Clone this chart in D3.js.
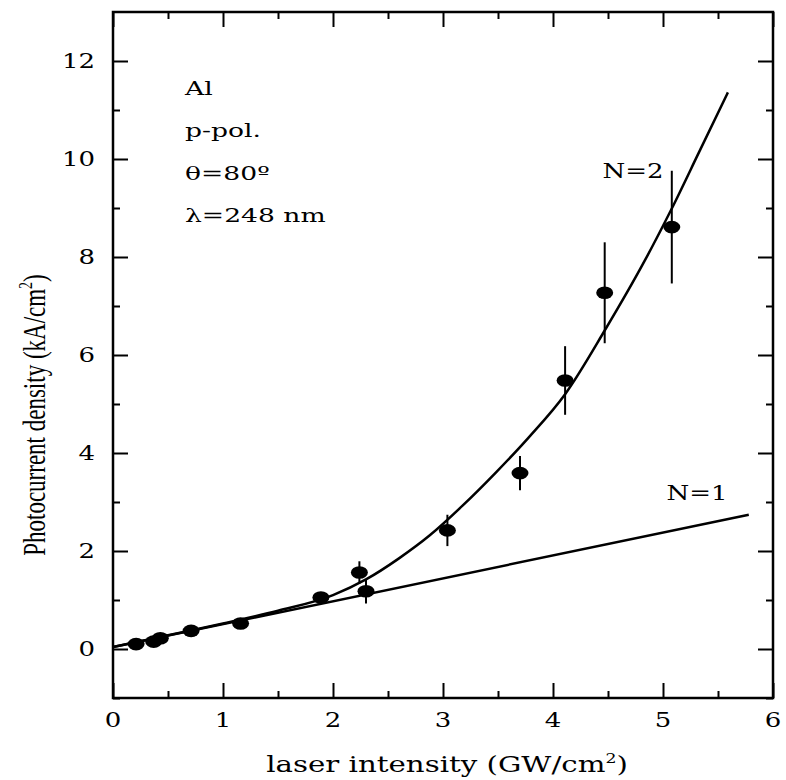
<!DOCTYPE html>
<html lang="en">
<head>
  <meta charset="UTF-8">
  <title>Photocurrent density vs laser intensity</title>
  <script src="https://d3js.org/d3.v7.min.js"></script>
  <style>
    body {
      margin: 0;
      background: #fff;
    }
    .lbl {
      font-family: "DejaVu Serif", serif;
      fill: #000;
    }
    .ytitle {
      font-family: "Liberation Serif", "Times New Roman", serif;
      font-size: 23px;
      fill: #000;
    }
    .tick line {
      stroke: #000;
      stroke-width: 2;
    }
  </style>
</head>
<body>
  <svg width="786" height="780"></svg>

  <script>
    // measured points (GW/cm2, kA/cm2) and their error bars
    const intensity = [0.21, 0.37, 0.43, 0.71, 1.16, 1.89, 2.24, 2.30, 3.04, 3.70, 4.11, 4.47, 5.08];
    const current = [0.10, 0.15, 0.22, 0.37, 0.52, 1.05, 1.56, 1.18, 2.42, 3.59, 5.48, 7.27, 8.61];
    const currentErr = [0, 0, 0, 0, 0, 0, 0.23, 0.25, 0.32, 0.35, 0.70, 1.03, 1.15];

    // fitted curves
    const n2X = [0, 0.5, 1.0, 1.5, 2.0, 2.3, 2.6, 2.88, 3.18, 3.48, 3.78, 4.11, 4.47, 4.84, 5.08, 5.33, 5.59];
    const n2Y = [0.04, 0.28, 0.52, 0.78, 1.10, 1.42, 1.85, 2.32, 2.93, 3.60, 4.32, 5.20, 6.50, 7.95, 8.99, 10.15, 11.36];
    const n1X = [0, 5.78];
    const n1Y = [0.04, 2.74];

    const xMajor = [0, 1, 2, 3, 4, 5, 6];
    const xMinor = [0.5, 1.5, 2.5, 3.5, 4.5, 5.5];
    const yMajor = [0, 2, 4, 6, 8, 10, 12];
    const yMinor = [-1, 1, 3, 5, 7, 9, 11];

    const notes = ["Al", "p-pol.", "\u03b8=80\u00ba", "\u03bb=248 nm"];

    const svg = d3.select("svg");
    const plotL = 113, plotR = 773, plotT = 12, plotB = 698;

    const x = d3.scaleLinear().domain([0, 6]).range([plotL, plotR]);
    const y = d3.scaleLinear().domain([-1, 13]).range([plotB, plotT]);

    // ticks on all four sides, pointing inward
    function ticks(axisFn, scale, values, size, pos) {
      svg.append("g")
        .attr("transform", pos)
        .call(axisFn(scale).tickValues(values).tickSize(-size).tickFormat(""))
        .call(g => g.select(".domain").remove());
    }
    ticks(d3.axisBottom, x, xMajor, 15, `translate(0,${plotB})`);
    ticks(d3.axisBottom, x, xMinor, 7, `translate(0,${plotB})`);
    ticks(d3.axisTop, x, xMajor, 15, `translate(0,${plotT})`);
    ticks(d3.axisTop, x, xMinor, 7, `translate(0,${plotT})`);
    ticks(d3.axisLeft, y, yMajor, 15, `translate(${plotL},0)`);
    ticks(d3.axisLeft, y, yMinor, 7, `translate(${plotL},0)`);
    ticks(d3.axisRight, y, yMajor, 15, `translate(${plotR},0)`);
    ticks(d3.axisRight, y, yMinor, 7, `translate(${plotR},0)`);

    svg.append("rect")
      .attr("x", plotL).attr("y", plotT)
      .attr("width", plotR - plotL).attr("height", plotB - plotT)
      .attr("fill", "none").attr("stroke", "#000").attr("stroke-width", 2.5);

    // wide serif lettering of the scanned figure
    function label(px, py, txt, size, sx, anchor) {
      return svg.append("text")
        .attr("class", "lbl")
        .attr("transform", `translate(${px},${py}) scale(${sx},1)`)
        .attr("text-anchor", anchor)
        .attr("font-size", size)
        .text(txt);
    }

    xMajor.forEach(v => label(x(v), 727, v, 20, 1.3, "middle"));
    yMajor.forEach(v => label(95, y(v) + 7, v, 20, 1.3, "end"));

    const xt = label(447, 772, "laser intensity (GW/cm", 22, 1.33, "middle");
    xt.append("tspan").attr("font-size", 13).attr("dy", -9).text("2");
    xt.append("tspan").attr("dy", 9).text(")");

    const yt = svg.append("text")
      .attr("class", "ytitle")
      .attr("transform", `translate(45,415) scale(1.4,1) rotate(-90)`)
      .attr("text-anchor", "middle")
      .text("Photocurrent density (kA/cm");
    yt.append("tspan").attr("font-size", 14).attr("dy", -9).text("2");
    yt.append("tspan").attr("dy", 9).text(")");

    notes.forEach((t, i) => label(185, 95 + i * 42.3, t, 19, 1.4, "start"));

    label(633, 178, "N=2", 20, 1.3, "middle");
    label(697, 500, "N=1", 20, 1.3, "middle");

    // fit lines
    const line = d3.line().curve(d3.curveMonotoneX);
    svg.append("path")
      .attr("d", line(n1X.map((v, i) => [x(v), y(n1Y[i])])))
      .attr("fill", "none").attr("stroke", "#000").attr("stroke-width", 2.5);
    svg.append("path")
      .attr("d", line(n2X.map((v, i) => [x(v), y(n2Y[i])])))
      .attr("fill", "none").attr("stroke", "#000").attr("stroke-width", 2.5);

    // error bars and markers
    const pts = intensity.map((v, i) => ({ x: v, y: current[i], e: currentErr[i] }));
    svg.selectAll(".err")
      .data(pts.filter(d => d.e > 0))
      .join("line")
      .attr("class", "err")
      .attr("x1", d => x(d.x)).attr("x2", d => x(d.x))
      .attr("y1", d => y(d.y - d.e)).attr("y2", d => y(d.y + d.e))
      .attr("stroke", "#000").attr("stroke-width", 2);
    svg.selectAll(".dot")
      .data(pts)
      .join("ellipse")
      .attr("class", "dot")
      .attr("cx", d => x(d.x)).attr("cy", d => y(d.y))
      .attr("rx", 8.5).attr("ry", 6.3)
      .attr("fill", "#000");
  </script>
</body>
</html>
